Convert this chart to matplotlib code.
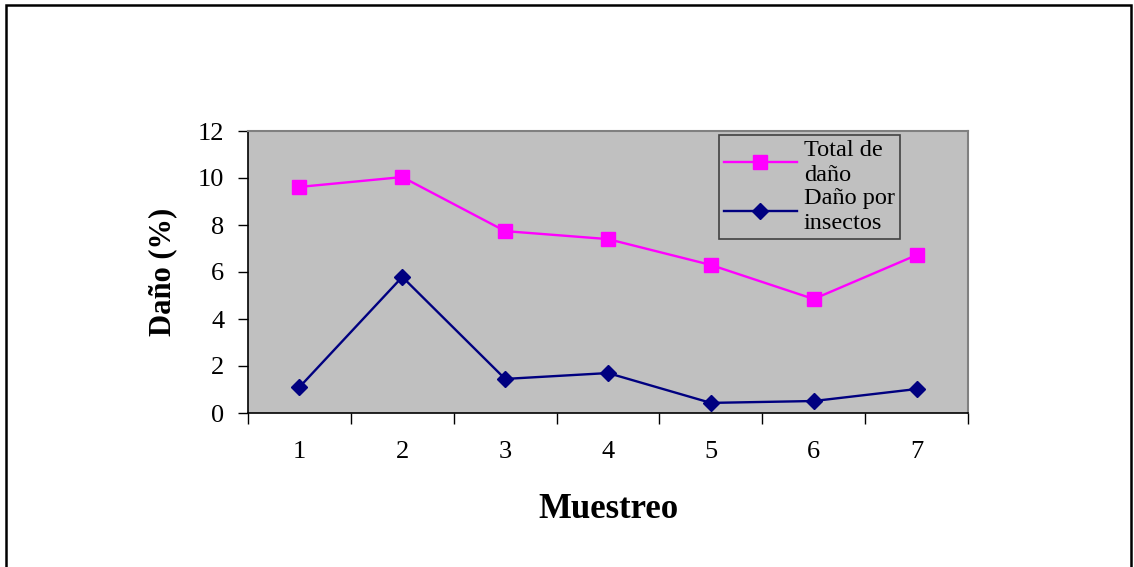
import matplotlib.pyplot as plt
from matplotlib.patches import Rectangle
from matplotlib.ticker import FixedLocator, NullFormatter

# Sampling rounds and damage percentages
muestreos = [1, 2, 3, 4, 5, 6, 7]
total_dano = [9.62, 10.04, 7.74, 7.40, 6.30, 4.85, 6.72]
dano_insectos = [1.10, 5.79, 1.45, 1.70, 0.43, 0.51, 1.02]
y_ticks = [0, 2, 4, 6, 8, 10, 12]

serif = ["Liberation Serif", "DejaVu Serif"]
plt.rcParams["font.family"] = serif

fig = plt.figure(figsize=(11.34, 5.67), dpi=100)
fig.patch.set_facecolor("white")

# Outer frame (open at the bottom edge)
fig.add_artist(Rectangle((6 / 1134, -0.05), (1131 - 6) / 1134, 1.05 - 5 / 567,
                         transform=fig.transFigure, fill=False,
                         edgecolor="black", linewidth=1.8))

ax = fig.add_axes([248 / 1134, 1 - 413 / 567, 720 / 1134, 282 / 567])
ax.set_facecolor("#c0c0c0")

ax.plot(muestreos, total_dano, color="#ff00ff", linewidth=1.7, marker="s",
        markersize=10, markeredgecolor="#ff00ff", label="Total de\ndaño")
ax.plot(muestreos, dano_insectos, color="#000080", linewidth=1.7, marker="D",
        markersize=8, markeredgecolor="#000080", label="Daño por\ninsectos")

ax.set_xlim(0.5, 7.5)
ax.set_ylim(0, 12)
ax.set_yticks(y_ticks)

# Category axis: tick marks between categories, labels at category centres
ax.xaxis.set_major_locator(FixedLocator([i + 0.5 for i in range(0, 8)]))
ax.xaxis.set_major_formatter(NullFormatter())
ax.xaxis.set_minor_locator(FixedLocator(muestreos))
ax.set_xticklabels([str(m) for m in muestreos], minor=True)
ax.tick_params(axis="x", which="major", direction="out", length=8, width=1, color="black")
ax.tick_params(axis="x", which="minor", length=0, pad=20, labelsize=19)
ax.tick_params(axis="y", direction="out", length=7, width=1, labelsize=19, pad=10)

for side in ("top", "right"):
    ax.spines[side].set_color("#808080")
    ax.spines[side].set_linewidth(1.5)
for side in ("left", "bottom"):
    ax.spines[side].set_color("black")
    ax.spines[side].set_linewidth(1.2)

ax.set_ylabel("Daño (%)", fontsize=22, fontweight="bold", labelpad=15)
ax.set_xlabel("Muestreo", fontsize=25, fontweight="bold", labelpad=22)

leg = ax.legend(loc="upper left", bbox_to_anchor=(0.654, 0.986), borderaxespad=0,
                fontsize=17.5, frameon=True, fancybox=False, facecolor="none",
                edgecolor="#222222", handlelength=3.0, handletextpad=0.3,
                borderpad=0.2, labelspacing=0.1)
leg.get_frame().set_linewidth(1.2)
for t in leg.get_texts():
    t.set_linespacing(1.25)

fig.savefig("out.png", dpi=100)
